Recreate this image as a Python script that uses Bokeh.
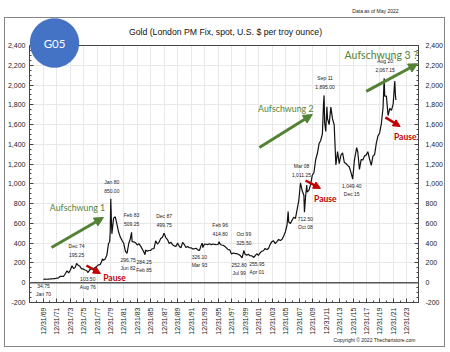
import numpy as np
import pandas as pd
from datetime import datetime
from bokeh.plotting import figure
from bokeh.models import (Range1d, LinearAxis, FixedTicker, NumeralTickFormatter,
                          DatetimeTickFormatter, Span, Label, Arrow, NormalHead, PolyAnnotation,
                          BoxAnnotation, ColumnDataSource, Title, InlineStyleSheet)
from bokeh.core.properties import value
from bokeh.embed import file_html
from bokeh.resources import INLINE

# ---------------- data ----------------
dates = ["1970-01", "1970-04", "1970-07", "1970-10", "1971-01", "1971-04", "1971-07", "1971-10",
         "1972-01", "1972-04", "1972-07", "1972-10", "1973-01", "1973-04", "1973-07", "1973-10",
         "1974-01", "1974-04", "1974-07", "1974-10", "1974-12", "1975-03", "1975-06", "1975-09",
         "1975-12", "1976-03", "1976-06", "1976-08", "1976-10", "1976-12", "1977-03", "1977-06",
         "1977-09", "1977-12", "1978-03", "1978-06", "1978-09", "1978-10", "1978-12", "1979-03",
         "1979-06", "1979-09", "1979-11", "1979-12", "1980-01", "1980-02", "1980-03", "1980-06",
         "1980-09", "1980-12", "1981-03", "1981-06", "1981-09", "1981-12", "1982-03", "1982-06",
         "1982-09", "1982-12", "1983-02", "1983-03", "1983-06", "1983-09", "1983-12", "1984-03",
         "1984-06", "1984-09", "1984-12", "1985-02", "1985-03", "1985-06", "1985-09", "1985-12",
         "1986-03", "1986-06", "1986-09", "1986-12", "1987-03", "1987-06", "1987-09", "1987-12",
         "1988-03", "1988-06", "1988-09", "1988-12", "1989-03", "1989-06", "1989-09", "1989-12",
         "1990-03", "1990-06", "1990-09", "1990-12", "1991-03", "1991-06", "1991-09", "1991-12",
         "1992-03", "1992-06", "1992-09", "1992-12", "1993-03", "1993-06", "1993-08", "1993-09",
         "1993-12", "1994-03", "1994-06", "1994-09", "1994-12", "1995-03", "1995-06", "1995-09",
         "1995-12", "1996-02", "1996-03", "1996-06", "1996-09", "1996-12", "1997-03", "1997-06",
         "1997-09", "1997-12", "1998-03", "1998-06", "1998-09", "1998-12", "1999-03", "1999-07",
         "1999-09", "1999-10", "1999-12", "2000-03", "2000-06", "2000-09", "2000-12", "2001-04",
         "2001-06", "2001-09", "2001-12", "2002-03", "2002-06", "2002-09", "2002-12", "2003-03",
         "2003-06", "2003-09", "2003-12", "2004-03", "2004-06", "2004-09", "2004-12", "2005-03",
         "2005-06", "2005-09", "2005-12", "2006-03", "2006-05", "2006-06", "2006-09", "2006-12",
         "2007-03", "2007-06", "2007-09", "2007-12", "2008-03", "2008-06", "2008-09", "2008-10",
         "2008-12", "2009-02", "2009-03", "2009-06", "2009-09", "2009-12", "2010-03", "2010-06",
         "2010-09", "2010-12", "2011-03", "2011-06", "2011-08", "2011-09", "2011-10", "2011-12",
         "2012-02", "2012-03", "2012-06", "2012-09", "2012-12", "2013-03", "2013-06", "2013-09",
         "2013-12", "2014-03", "2014-06", "2014-09", "2014-12", "2015-03", "2015-06", "2015-09",
         "2015-12", "2016-03", "2016-07", "2016-09", "2016-12", "2017-03", "2017-06", "2017-09",
         "2017-12", "2018-03", "2018-06", "2018-09", "2018-12", "2019-03", "2019-06", "2019-09",
         "2019-12", "2020-03", "2020-06", "2020-08", "2020-09", "2020-12", "2021-03", "2021-06",
         "2021-09", "2021-12", "2022-03", "2022-04", "2022-05"]
prices = [34.75, 35.9, 35.3, 37.4, 38.0, 39.5, 40.9, 42.5,
          46.0, 49.0, 65.5, 64.5, 65.1, 90.5, 120.0, 100.0,
          129.0, 172.0, 143.0, 158.0, 195.25, 177.0, 166.0, 141.0,
          140.0, 129.0, 124.0, 103.5, 117.0, 134.5, 148.9, 141.0,
          154.0, 164.9, 181.0, 183.0, 217.1, 242.0, 226.0, 240.0,
          277.5, 397.25, 415.0, 512.0, 850.0, 637.0, 494.5, 653.5,
          666.8, 589.8, 513.0, 461.0, 428.8, 400.0, 320.0, 296.75,
          397.0, 448.0, 509.25, 414.8, 412.9, 405.0, 382.4, 394.3,
          373.1, 341.0, 309.0, 284.25, 330.3, 317.8, 326.0, 326.8,
          344.0, 345.8, 423.2, 390.9, 408.5, 447.3, 459.5, 499.75,
          456.9, 436.6, 397.7, 410.3, 385.2, 373.0, 366.5, 401.0,
          368.5, 352.2, 408.4, 386.2, 355.7, 366.7, 354.1, 353.2,
          341.7, 343.4, 349.0, 332.9, 326.1, 378.5, 400.0, 355.5,
          391.8, 389.2, 385.8, 394.9, 383.3, 392.0, 387.1, 384.0,
          387.0, 414.8, 396.4, 382.0, 379.0, 369.3, 351.9, 334.6,
          332.1, 290.2, 301.0, 296.3, 294.0, 288.0, 279.5, 252.8,
          299.0, 325.5, 290.3, 278.4, 288.2, 273.7, 272.7, 255.95,
          270.6, 293.1, 276.5, 301.4, 318.5, 323.7, 347.2, 334.9,
          346.0, 388.0, 416.3, 423.7, 395.8, 415.7, 438.0, 427.5,
          437.1, 473.3, 513.0, 582.0, 720.0, 613.5, 599.3, 632.0,
          663.0, 650.5, 743.0, 833.75, 1011.25, 930.25, 884.5, 712.5,
          869.75, 989.0, 916.5, 934.5, 995.75, 1087.5, 1115.5, 1244.0,
          1307.0, 1405.5, 1439.0, 1505.5, 1813.5, 1895.0, 1620.0, 1531.0,
          1781.0, 1662.5, 1598.5, 1776.0, 1657.5, 1598.3, 1192.0, 1326.5,
          1204.5, 1291.8, 1315.0, 1216.5, 1206.0, 1187.0, 1171.0, 1114.0,
          1049.4, 1237.0, 1366.3, 1322.5, 1145.9, 1244.9, 1242.3, 1283.1,
          1291.0, 1325.0, 1250.5, 1187.3, 1279.0, 1295.4, 1409.0, 1485.3,
          1515.0, 1608.0, 1768.1, 2067.15, 1886.9, 1887.6, 1691.1, 1763.2,
          1742.8, 1805.9, 2039.0, 1908.0, 1848.0]

# annotated extremes
mark_dates = ["1970-01", "1974-12", "1976-08", "1980-01", "1982-06", "1983-02", "1985-02",
              "1987-12", "1993-03", "1996-02", "1999-07", "1999-10", "2001-04", "2008-03",
              "2008-10", "2011-09", "2015-12", "2020-08"]
mark_values = [34.75, 195.25, 103.50, 850.00, 296.75, 509.25, 284.25,
               499.75, 326.10, 414.80, 252.80, 325.50, 255.95, 1011.25,
               712.50, 1895.00, 1049.40, 2067.15]
mark_names = ["Jan 70", "Dec 74", "Aug 76", "Jan 80", "Jun 82", "Feb 83", "Feb 85",
              "Dec 87", "Mar 93", "Feb 96", "Jul 99", "Oct 99", "Apr 01", "Mar 08",
              "Oct 08", "Sep 11", "Dec 15", "Aug 20"]
mark_is_peak = [False, True, False, True, False, True, False,
                True, False, True, False, True, False, True,
                False, True, False, True]

tick_years = list(range(1969, 2024, 2))
y_ticks = list(range(-200, 2401, 200))
title_text = "Gold (London PM Fix, spot, U.S. $ per troy ounce)"

# label nudges in pixels (style only)
mark_dx = [0, 0, 0, 1, 1, 0, -1, 0, 0, 1, -3, 0, 3, 1, 1, 1, -1, 1]

# ---------------- helpers ----------------
EPOCH = datetime(1970, 1, 1)


def ms(dt):
    return (dt - EPOCH).total_seconds() * 1000.0


def yr(y):
    return (y - 1970.0) * 365.2425 * 86400000.0


AX_FONT = "Liberation Sans"
FONT2 = "Lato"
GREEN = "#548235"
RED = "#C00000"
AXC = "#444444"

x_dates = pd.to_datetime(dates) + pd.Timedelta(days=14)
src = ColumnDataSource(dict(x=x_dates, y=prices))

# frame reaches up to the outer border; the value scale tops out at 2,400
p = figure(width=450, height=352, x_axis_type="datetime",
           x_range=Range1d(yr(1967.97), yr(2025.72)), y_range=Range1d(-200, 2683),
           output_backend="svg", toolbar_location=None,
           min_border_left=29, min_border_right=32, min_border_top=17, min_border_bottom=50)
p.background_fill_color = "white"
p.border_fill_color = "white"
p.outline_line_color = None
p.title = None

p.stylesheets = [InlineStyleSheet(css=(
    ":host { position: relative; } "
    ":host::after { content: ''; position: absolute; left: 4px; top: 17px; width: 441px; "
    "height: 330px; border: 1.5px solid #858585; box-sizing: border-box; "
    "pointer-events: none; }"))]

p.add_layout(Title(text="Data as of May 2022", align="right", offset=20, standoff=7,
                   text_font=AX_FONT, text_font_size="5px", text_font_style="normal",
                   text_color="#222222"), "above")

ticks = [ms(datetime(y, 12, 31)) for y in tick_years]
minor = [ms(datetime(y, 12, 31)) for y in range(1967, 2026)]
fmt = "%m/%d/%y"
dfmt = DatetimeTickFormatter(microseconds=fmt, milliseconds=fmt, seconds=fmt, minsec=fmt,
                             minutes=fmt, hourmin=fmt, hours=fmt, days=fmt, months=fmt, years=fmt)

xax = p.xaxis[0]
xax.ticker = FixedTicker(ticks=ticks, minor_ticks=minor)
xax.formatter = dfmt
xax.major_label_orientation = np.pi / 2

yl = p.yaxis[0]
yr_ax = LinearAxis()
p.add_layout(yr_ax, "right")
for ax in (yl, yr_ax):
    ax.ticker = FixedTicker(ticks=y_ticks, minor_ticks=list(range(-200, 2401, 50)))
    ax.formatter = NumeralTickFormatter(format="0,0")
    ax.bounds = (-200, 2400)
for ax in (xax, yl, yr_ax):
    ax.axis_line_color = AXC
    ax.major_tick_line_color = AXC
    ax.minor_tick_line_color = AXC
    ax.major_tick_in = 4
    ax.major_tick_out = 0
    ax.minor_tick_in = 2
    ax.minor_tick_out = 0
    ax.major_label_text_font = AX_FONT
    ax.major_label_text_color = "#222222"
    ax.major_label_text_font_size = "7px"
yl.major_label_standoff = 4
yr_ax.major_label_standoff = 7
xax.major_label_standoff = 5

p.add_layout(Title(text="Copyright \u00a9 2022 Thechartstore.com", align="right", offset=3,
                   standoff=-5, text_font=AX_FONT, text_font_size="5px",
                   text_font_style="normal", text_color="#222222"), "below")

p.xgrid.ticker = FixedTicker(ticks=ticks)
p.ygrid.ticker = FixedTicker(ticks=y_ticks)
p.xgrid.grid_line_color = "#e8e8e8"
p.ygrid.grid_line_color = "#e8e8e8"

# blank band above the 2,400 line (covers grid lines), then the top edge of the plot box
p.add_layout(BoxAnnotation(bottom=2400, fill_color="white", fill_alpha=1, line_alpha=0))
p.add_layout(Span(location=2400, dimension="width", line_color=AXC, line_width=1))
p.add_layout(Span(location=0, dimension="width", line_color="#555555", line_width=1.3))

# price line
p.line("x", "y", source=src, line_color="#111111", line_width=1.2)

# extreme labels
m_x = pd.to_datetime(mark_dates) + pd.Timedelta(days=14)
val_txt = ["{:,.2f}".format(v) for v in mark_values]
off_val = [-8 if pk else 7 for pk in mark_is_peak]
off_name = [-17 if pk else 15 for pk in mark_is_peak]
lab = ColumnDataSource(dict(x=list(m_x) * 2, y=mark_values * 2,
                            t=val_txt + mark_names, dy=off_val + off_name,
                            dx=mark_dx * 2))
p.text("x", "y", text="t", source=lab, x_offset="dx", y_offset="dy", text_align="center",
       text_baseline="middle", text_font_size="5px", text_font=value(AX_FONT),
       text_color="#222222")

# trend arrows (positions in decimal years / price units)
for (x0, y0, x1, y1) in [(1971.23, 356, 1978.95, 660), (2002.1, 1368, 2009.96, 1702),
                         (2017.96, 1935, 2025.6, 2215)]:
    p.add_layout(Arrow(end=NormalHead(size=9, fill_color=GREEN, line_color=GREEN),
                       x_start=yr(x0), y_start=y0, x_end=yr(x1), y_end=y1,
                       line_color=GREEN, line_width=3))
for (x0, y0, x1, y1) in [(1976.42, 174, 1978.5, 93), (2008.95, 1034, 2011.17, 954),
                         (2020.8, 1672, 2023.0, 1581)]:
    p.add_layout(Arrow(end=NormalHead(size=7, fill_color=RED, line_color=RED),
                       x_start=yr(x0), y_start=y0, x_end=yr(x1), y_end=y1,
                       line_color=RED, line_width=2.5))

for (xx, yy, t, fs) in [(1975.1, 761, "Aufschwung 1", "8.8px"),
                        (2006.02, 1763, "Aufschwung 2", "8.8px"),
                        (2020.2, 2300, "Aufschwung 3 ?", "10.5px")]:
    p.add_layout(Label(x=yr(xx), y=yy, text=t, text_align="center", text_baseline="middle",
                       text_font=FONT2, text_font_size=fs, text_color=GREEN))
for (xx, yy) in [(1980.58, 43), (2011.89, 852), (2023.75, 1470)]:
    p.add_layout(Label(x=yr(xx), y=yy, text="Pause", text_align="center", text_baseline="middle",
                       text_font=FONT2, text_font_size="8.5px", text_font_style="bold",
                       text_color=RED))

# title and badge (canvas pixels, inside the frame area)
p.add_layout(Label(x=225, y=31, x_units="canvas", y_units="canvas", text=title_text,
                   text_align="center", text_baseline="middle", text_font=AX_FONT,
                   text_font_size="8.7px", text_color="#111111"))
t = np.linspace(0, 2 * np.pi, 73)
p.add_layout(PolyAnnotation(xs=list(54 + 24.5 * np.cos(t)), ys=list(42.5 + 24.5 * np.sin(t)),
                            xs_units="canvas", ys_units="canvas", fill_color="#4472C4",
                            fill_alpha=1, line_color="#3A62AA", line_width=1))
p.add_layout(Label(x=54, y=42.5, x_units="canvas", y_units="canvas", text="G05",
                   text_align="center", text_baseline="middle", text_font=FONT2,
                   text_font_size="11.5px", text_color="white"))

open("out.html", "w").write(file_html(p, INLINE))
